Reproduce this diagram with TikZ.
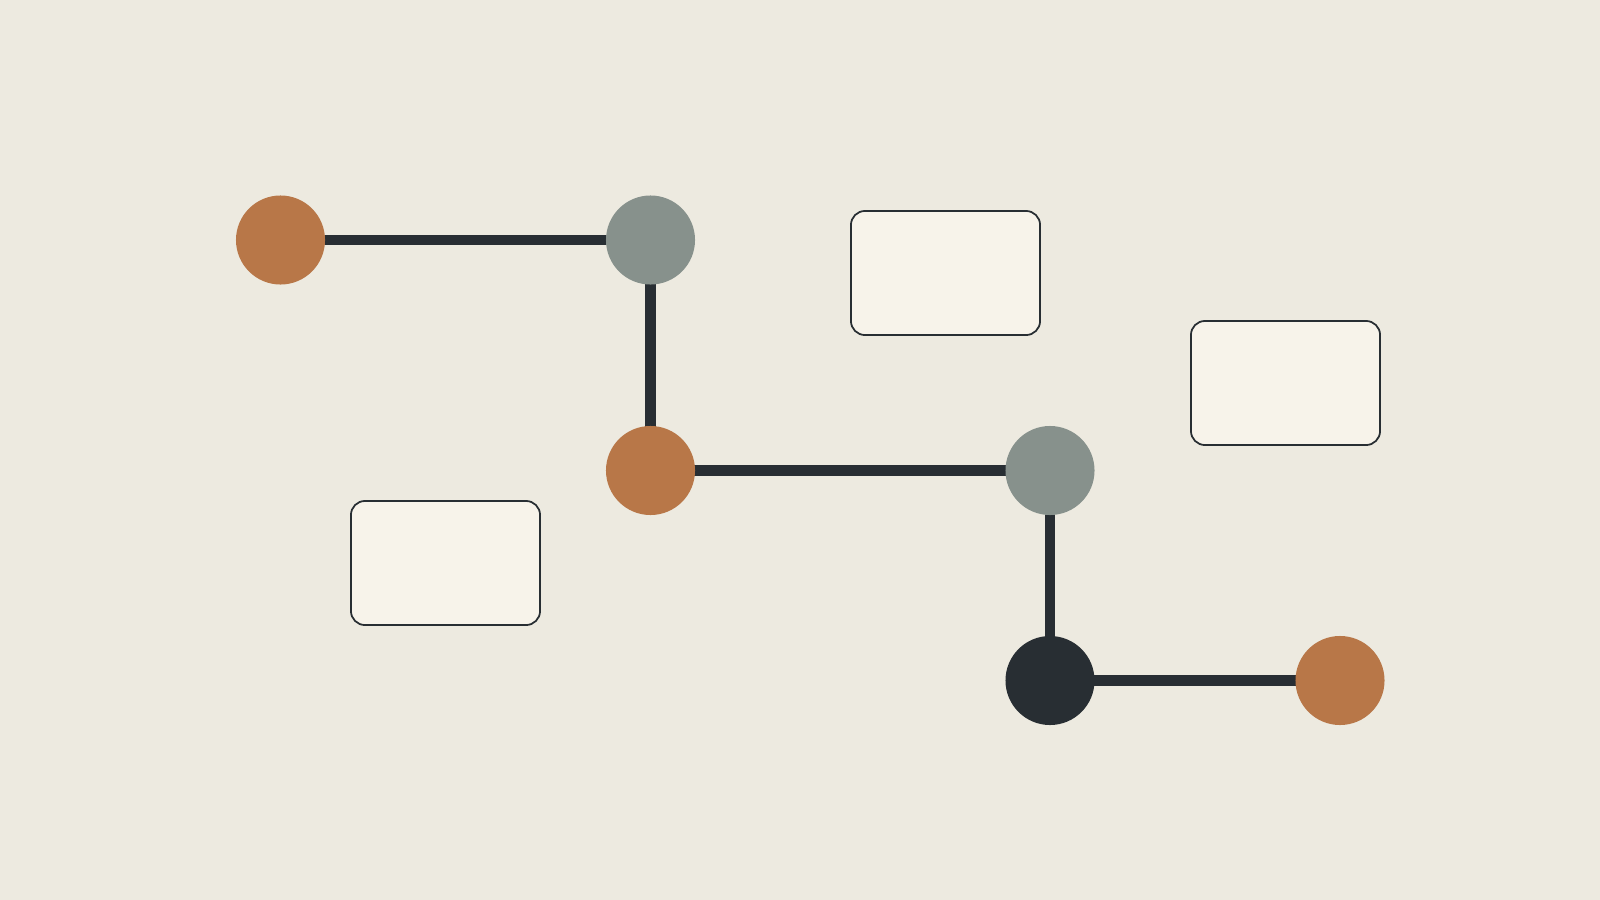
\documentclass[tikz,border=0pt]{standalone}
\usetikzlibrary{backgrounds}
\definecolor{bgc}{RGB}{237,234,224}
\definecolor{orangec}{RGB}{184,119,72}
\definecolor{grayc}{RGB}{135,145,140}
\definecolor{darkc}{RGB}{40,46,51}
\definecolor{boxc}{RGB}{247,243,234}
\tikzset{
  dot/.style={circle, inner sep=0pt, minimum size=0.89cm, draw=none},
  odot/.style={dot, fill=orangec},
  gdot/.style={dot, fill=grayc},
  ddot/.style={dot, fill=darkc},
  link/.style={draw=darkc, line width=0.105cm},
  card/.style={rectangle, draw=darkc, line width=0.5pt, fill=boxc, rounded corners=0.14cm, minimum width=1.89cm, minimum height=1.24cm, inner sep=0pt}
}
\begin{document}
\begin{tikzpicture}[x=0.01cm,y=-0.01cm]
\useasboundingbox (0,0) rectangle (1600,900);
\node[odot] (a) at (280.5,240) {};
\node[gdot] (b) at (650.5,240) {};
\node[odot] (c) at (650.5,470.5) {};
\node[gdot] (d) at (1050,470.5) {};
\node[ddot] (e) at (1050,680.5) {};
\node[odot] (f) at (1340,680.5) {};
\node[card] (box1) at (945.5,273) {};
\node[card] (box2) at (1285.5,383) {};
\node[card] (box3) at (445.5,563) {};
\begin{scope}[on background layer]
\fill[bgc] (0,0) rectangle (1600,900);
\draw[link] (a.center) -- (b.center);
\draw[link] (b.center) -- (c.center);
\draw[link] (c.center) -- (d.center);
\draw[link] (d.center) -- (e.center);
\draw[link] (e.center) -- (f.center);
\end{scope}
\end{tikzpicture}
\end{document}
